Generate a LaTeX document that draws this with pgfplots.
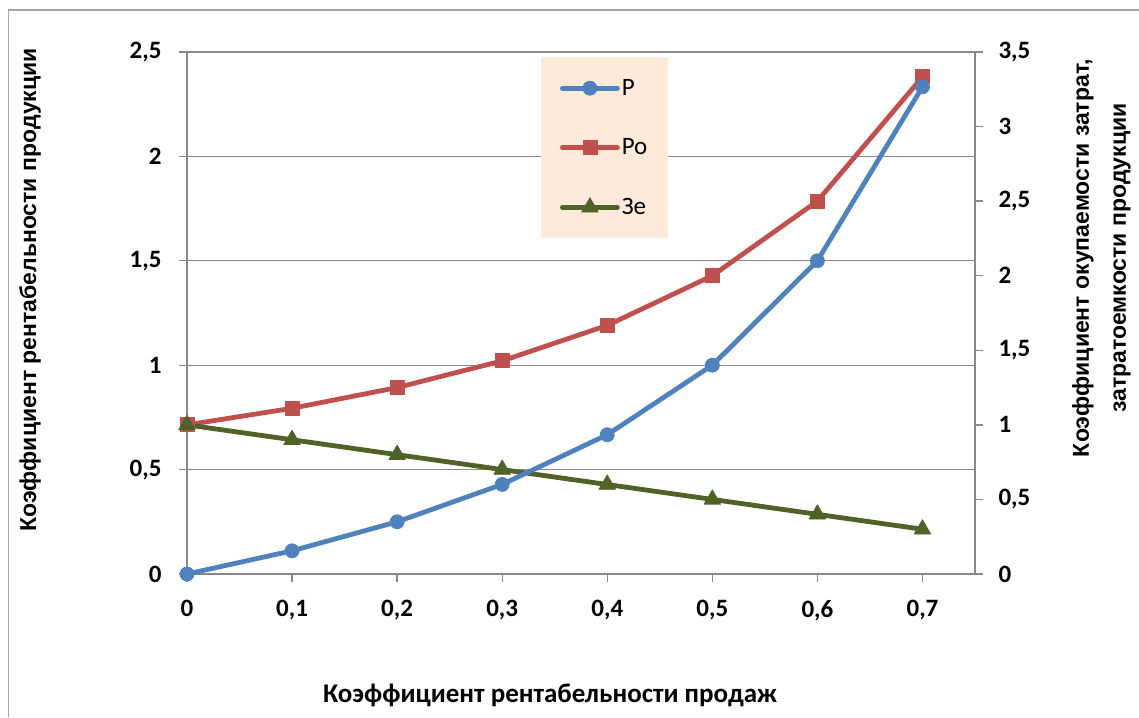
\documentclass[border=0pt]{standalone}
\usepackage{fontspec}
\setmainfont{Carlito}
\newfontfamily\arialfont{Liberation Sans}
\usepackage{pgfplots}
\pgfplotsset{compat=1.18}

\definecolor{serblue}{HTML}{4F81BD}
\definecolor{serred}{HTML}{C0504D}
\definecolor{sergreen}{HTML}{4F6228}
\definecolor{legfill}{HTML}{FDEADA}
\definecolor{gridgray}{HTML}{898989}
\definecolor{framegray}{HTML}{A6A6A6}

\pgfplotsset{
  base/.style={
    scale only axis, width=788pt, height=522pt,
    at={(187pt,143pt)}, anchor=south west,
    xmin=0, xmax=0.75, clip=false,
    xtick={0,0.1,0.2,0.3,0.4,0.5,0.6,0.7},
    /pgf/number format/use comma,
    /pgf/number format/assume math mode=true,
    tick label style={font=\fontsize{25}{29}\selectfont\bfseries, text=black},
    xticklabel style={yshift=-15pt},
    axis line style={draw=gridgray, line width=1.3pt, -},
    tick style={draw=gridgray, line width=1.3pt},
    tick align=outside, major tick length=8pt,
  },
  ser/.style={#1, line width=4.8pt, line join=round, line cap=round,
    mark options={solid, fill=#1, draw=#1, line width=0.8pt}},
  legend image code/.code={
    \draw[mark repeat=2, mark phase=2, #1] plot coordinates {(0pt,0pt) (27.5pt,0pt) (55pt,0pt)};
  },
}

\begin{document}
\begin{tikzpicture}
\useasboundingbox (0pt,0pt) rectangle (1139pt,717pt);
\draw[framegray, line width=1.5pt] (8.5pt,0pt) -- (8.5pt,707pt) -- (1139pt,707pt);

% left axis: grid and ticks
\begin{axis}[base,
  ymin=0, ymax=2.5, ytick={0,0.5,1,1.5,2,2.5},
  axis x line*=bottom, axis y line*=left,
  yticklabel style={xshift=-14pt},
  ymajorgrids, grid style={gridgray, line width=1.3pt},
]
\end{axis}

% right axis: Po and Ze
\begin{axis}[base,
  ymin=0, ymax=3.5, ytick={0,0.5,1,1.5,2,2.5,3,3.5},
  axis y line*=right, axis x line=none,
  yticklabel style={xshift=12pt},
  legend cell align=left,
  legend style={at={(0.449,0.990)}, anchor=north west,
    fill=legfill, draw=none, row sep=38pt,
    inner xsep=19pt, inner ysep=20pt,
    font=\fontsize{25}{29}\selectfont},
]
\addlegendimage{ser=serblue, mark=*, mark size=7pt}
\addlegendentry{P}
\addplot[ser=serred, mark=square*, mark size=7pt] coordinates {
  (0,1) (0.1,1.111) (0.2,1.25) (0.3,1.429) (0.4,1.667) (0.5,2) (0.6,2.5) (0.7,3.333)
};
\addlegendentry{Po}
\addplot[ser=sergreen, mark=triangle*, mark size=9.5pt] coordinates {
  (0,1) (0.1,0.9) (0.2,0.8) (0.3,0.7) (0.4,0.6) (0.5,0.5) (0.6,0.4) (0.7,0.3)
};
\addlegendentry{Зе}
\end{axis}

% left axis series P on top
\begin{axis}[base, ymin=0, ymax=2.5, hide axis]
\addplot[ser=serblue, mark=*, mark size=7pt] coordinates {
  (0,0) (0.1,0.111) (0.2,0.25) (0.3,0.429) (0.4,0.667) (0.5,1) (0.6,1.5) (0.7,2.333)
};
\end{axis}

\node[font=\fontsize{27}{31}\selectfont\bfseries] at (550pt,22pt)
  {Коэффициент рентабельности продаж};
\node[rotate=90, font=\arialfont\fontsize{23}{27}\selectfont\bfseries] at (30pt,427pt)
  {Коэффициент рентабельности продукции};
\node[rotate=90, font=\arialfont\fontsize{23}{27}\selectfont\bfseries] at (1083pt,459pt)
  {Коэффициент окупаемости затрат,};
\node[rotate=90, font=\arialfont\fontsize{23}{27}\selectfont\bfseries] at (1122pt,459pt)
  {затратоемкости продукции};
\end{tikzpicture}
\end{document}
